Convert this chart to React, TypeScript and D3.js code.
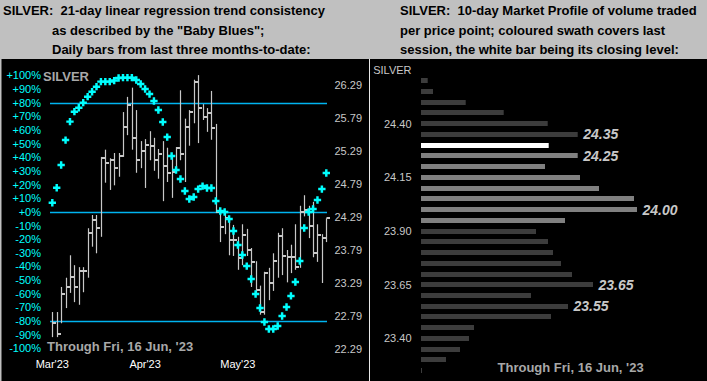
import React, { useEffect } from "react";
import * as d3 from "d3";

// ---------- Left chart data (daily bars, last three months) ----------
const BAR_HIGH = [22.85, 22.85, 23.23, 23.37, 23.71, 23.56, 23.53, 23.53, 24.12, 24.32, 24.32, 25.20, 25.31, 25.18, 25.26, 25.26, 25.88, 26.11, 26.25, 25.91, 25.44, 25.47, 25.59, 25.49, 25.32, 25.44, 25.34, 25.20, 25.35, 26.21, 25.78, 25.91, 26.37, 26.44, 26.00, 25.94, 26.20, 25.70, 24.40, 24.38, 24.27, 24.17, 23.99, 24.18, 24.11, 23.82, 23.62, 23.25, 23.46, 23.52, 23.74, 24.05, 24.12, 23.79, 23.87, 24.18, 24.46, 24.62, 24.46, 24.52, 24.18, 24.03, 24.27];
const BAR_LOW = [22.47, 22.47, 22.68, 22.91, 23.14, 23.00, 22.96, 23.15, 23.37, 23.84, 23.74, 23.99, 24.81, 24.70, 24.77, 24.90, 25.20, 25.53, 25.31, 24.96, 25.03, 24.73, 25.15, 24.99, 24.87, 24.53, 24.82, 24.58, 24.99, 25.15, 24.82, 25.37, 25.71, 25.41, 25.76, 25.58, 25.46, 24.35, 23.91, 24.03, 23.71, 23.70, 23.49, 23.56, 23.70, 23.23, 23.12, 22.81, 22.81, 23.03, 23.17, 23.37, 23.41, 23.30, 23.44, 23.49, 23.52, 24.30, 23.97, 23.68, 23.61, 23.29, 23.91];
const BAR_CLOSE = [22.68, 22.52, 23.12, 23.23, 23.38, 23.23, 23.47, 23.47, 24.05, 24.24, 24.12, 25.18, 25.11, 25.15, 25.03, 25.21, 25.65, 25.99, 25.49, 25.15, 25.29, 25.38, 25.37, 25.15, 25.24, 25.06, 24.96, 24.97, 25.34, 25.24, 25.65, 25.88, 26.34, 25.94, 25.81, 25.87, 25.64, 24.37, 24.14, 24.27, 23.94, 23.94, 23.67, 24.02, 23.79, 23.61, 23.18, 22.85, 23.44, 23.29, 23.62, 24.00, 23.70, 23.68, 23.68, 23.53, 24.37, 24.40, 24.15, 23.74, 24.02, 23.97, 24.27];
// "Baby Blues" trend consistency, percent
const TREND_PCT = [6.8, 17.8, 34.4, 52.7, 66.2, 73.5, 76.4, 80.1, 84.5, 88.1, 91.8, 95.5, 95.5, 95.5, 96.3, 98.2, 98.4, 98.4, 98.4, 96.7, 93.8, 90.1, 86.4, 81.3, 74.7, 65.9, 54.9, 41.0, 30.8, 24.2, 15.4, 9.5, 11.0, 16.8, 19.0, 17.6, 17.6, 8.1, 0.7, 0.0, -5.1, -13.9, -24.2, -31.5, -39.6, -49.1, -60.1, -70.3, -80.6, -85.7, -85.7, -83.5, -76.2, -69.6, -61.5, -51.3, -35.9, -11.7, 0.0, 2.2, 8.8, 16.8, 28.6];
const MONTH_LABELS = ["Mar'23", "Apr'23", "May'23"];
const MONTH_INDEX = [0, 21, 42];
const PCT_TICKS = [100, 90, 80, 70, 60, 50, 40, 30, 20, 10, 0, -10, -20, -30, -40, -50, -60, -70, -80, -90, -100];
const PCT_LINES = [80, 0, -80];
const PRICE_TICKS = [26.29, 25.79, 25.29, 24.79, 24.29, 23.79, 23.29, 22.79, 22.29];

// ---------- Right chart data (10-day market profile) ----------
const PROFILE_PRICES = [24.60, 24.55, 24.50, 24.45, 24.40, 24.35, 24.30, 24.25, 24.20, 24.15, 24.10, 24.05, 24.00, 23.95, 23.90, 23.85, 23.80, 23.75, 23.70, 23.65, 23.60, 23.55, 23.50, 23.45, 23.40, 23.35, 23.30, 23.25];
const PROFILE_VOLUME = [6.7, 12, 44.7, 82.7, 126.7, 156.7, 127.7, 156.7, 124, 159, 178, 213, 216, 144, 115, 127, 132, 140, 151, 172, 110, 147, 130, 53, 48, 39, 25, 1];
const SESSION_HIGH = 24.25;
const SESSION_LOW = 23.95;
const SESSION_CLOSE = 24.30;
const PROFILE_LABELS = [24.35, 24.25, 24.00, 23.65, 23.55];
const PROFILE_TICKS = [24.40, 24.15, 23.90, 23.65, 23.40];

const LEFT_TITLE = ["SILVER:  21-day linear regression trend consistency", "as described by the \"Baby Blues\";", "Daily bars from last three months-to-date:"];
const RIGHT_TITLE = ["SILVER:  10-day Market Profile of volume traded", "per price point; coloured swath covers last", "session, the white bar being its closing level:"];
const THROUGH = "Through Fri, 16 Jun, '23";

const FONT = "'Liberation Sans', Arial, Helvetica, sans-serif";

export default function App() {
  useEffect(() => {
    document.body.style.margin = "0";
    document.body.style.background = "#000";
  }, []);

  const W = 707, H = 381;
  // left scales
  const x = d3.scaleLinear().domain([0, BAR_CLOSE.length - 1]).range([52.3, 326.3]);
  const yPrice = d3.scaleLinear().domain([22.29, 26.29]).range([349, 85]);
  const yPct = d3.scaleLinear().domain([-100, 100]).range([348.5, 75.5]);
  // right scales
  const yProf = d3.scaleLinear().domain([23.25, 24.60]).range([370.7, 80.7]);
  const xVol = d3.scaleLinear().domain([0, 216]).range([421, 637]);

  const cross = d3.symbol().type(d3.symbolCross).size(30)() as string;

  const profColor = (p: number) => {
    if (Math.abs(p - SESSION_CLOSE) < 1e-6) return "#ffffff";
    if (p <= SESSION_HIGH + 1e-6 && p >= SESSION_LOW - 1e-6) return "#808080";
    return "#3c3c3c";
  };

  return (
    <svg width={W} height={H} style={{ position: "absolute", left: 0, top: 0, display: "block" }} fontFamily={FONT}>
      <rect x={0} y={0} width={W} height={H} fill="#c0c0c0" />
      <rect x={1.5} y={59} width={367.5} height={H - 59} fill="#000" />
      <rect x={370} y={59} width={W - 370} height={H - 59} fill="#000" />
      <line x1={369.5} x2={369.5} y1={59} y2={H} stroke="#e8e8e8" strokeWidth={1} />

      {/* headers */}
      {LEFT_TITLE.map((t, i) => (
        <text key={"lt" + i} x={i === 0 ? 3 : 52} y={[15, 35, 54][i]} fontSize={13} fontWeight="bold" fill="#000" style={{ whiteSpace: "pre" }}>{t}</text>
      ))}
      {RIGHT_TITLE.map((t, i) => (
        <text key={"rt" + i} x={400} y={[15, 35, 54][i]} fontSize={13} fontWeight="bold" fill="#000" style={{ whiteSpace: "pre" }}>{t}</text>
      ))}

      {/* ----- left chart ----- */}
      {PCT_TICKS.map((p) => (
        <text key={"pt" + p} x={41} y={yPct(p)} dy="0.35em" textAnchor="end" fontSize={11} fill="#00ffff">
          {(p >= 0 ? "+" : "") + p + "%"}
        </text>
      ))}
      {PRICE_TICKS.map((p) => (
        <text key={"pr" + p} x={362} y={yPrice(p)} dy="0.35em" textAnchor="end" fontSize={11} fill="#c8c8c8">
          {p.toFixed(2)}
        </text>
      ))}
      {MONTH_LABELS.map((m, i) => (
        <text key={"m" + i} x={x(MONTH_INDEX[i])} y={364} dy="0.35em" textAnchor="middle" fontSize={11} fill="#ffffff">{m}</text>
      ))}
      <text x={43} y={76} dy="0.35em" fontSize={13} fontWeight="bold" fill="#a8a8a8">SILVER</text>

      {PCT_LINES.map((p) => (
        <line key={"pl" + p} x1={50} x2={327} y1={Math.round(yPct(p)) + 0.5} y2={Math.round(yPct(p)) + 0.5} stroke="#00b4f0" strokeWidth={1.3} />
      ))}

      {BAR_CLOSE.map((c, i) => {
        const xi = Math.round(x(i)) + 0.5;
        return (
          <g key={"b" + i}>
            <line x1={xi} x2={xi} y1={yPrice(BAR_HIGH[i])} y2={yPrice(BAR_LOW[i])} stroke="#c8c8c8" strokeWidth={1.2} />
            <rect x={xi} y={Math.round(yPrice(c)) - 1} width={3.5} height={2} fill="#c8c8c8" />
          </g>
        );
      })}

      {TREND_PCT.map((p, i) => (
        <path key={"d" + i} d={cross} transform={`translate(${x(i)},${yPct(p)})`} fill="#00ffff" />
      ))}

      <text x={47} y={351} fontSize={13} fontWeight="bold" fill="#a8a8a8">{THROUGH}</text>

      {/* ----- right chart ----- */}
      <text x={411.5} y={70} dy="0.35em" textAnchor="end" fontSize={11} fill="#c8c8c8">SILVER</text>
      {PROFILE_TICKS.map((p) => (
        <text key={"pft" + p} x={411.5} y={yProf(p)} dy="0.35em" textAnchor="end" fontSize={11} fill="#c8c8c8">{p.toFixed(2)}</text>
      ))}
      {PROFILE_PRICES.map((p, i) => (
        <rect key={"pb" + i} x={xVol(0)} y={Math.round(yProf(p) - 2.5)} width={xVol(PROFILE_VOLUME[i]) - xVol(0)} height={5} fill={profColor(p)} />
      ))}
      {PROFILE_LABELS.map((p) => {
        const idx = PROFILE_PRICES.findIndex((q) => Math.abs(q - p) < 1e-6);
        return (
          <text key={"pl" + p} x={xVol(PROFILE_VOLUME[idx]) + 5.5} y={yProf(p)} dy="0.36em" fontSize={14} fontWeight="bold" fontStyle="italic" fill="#c8c8c8">
            {p.toFixed(2)}
          </text>
        );
      })}
      <text x={497.5} y={371.5} fontSize={13} fontWeight="bold" fill="#a8a8a8">{THROUGH}</text>
    </svg>
  );
}
